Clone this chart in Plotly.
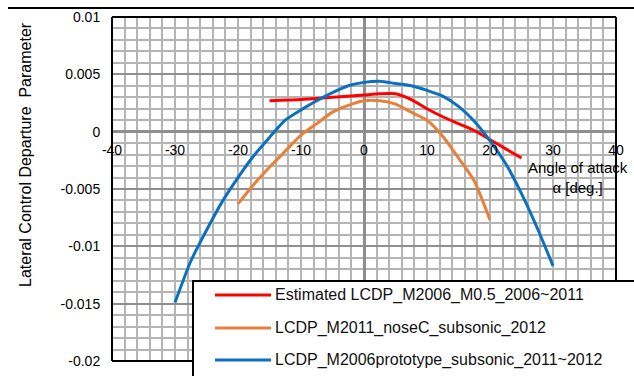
import plotly.graph_objects as go

# ---- data ----
red_x = [-15, -10, -5, 0, 2.5, 5, 7.5, 10, 12.5, 15, 17.5, 20, 22.5, 25]
red_y = [0.0027, 0.0028, 0.0030, 0.0032, 0.0033, 0.0033, 0.0028, 0.0020, 0.0013, 0.0007, 0.0001, -0.0007, -0.0015, -0.0023]

orange_x = [-20, -17.5, -15, -12.5, -10, -7.5, -5, -2.5, 0, 2.5, 5, 7.5, 10, 12.5, 15, 17.5, 20]
orange_y = [-0.0063, -0.0046, -0.0031, -0.0017, -0.0003, 0.0007, 0.0017, 0.0023, 0.0027, 0.0027, 0.0024, 0.0017, 0.0010, -0.0004, -0.0023, -0.0043, -0.0077]

blue_x = [-30, -27.5, -25, -22.5, -20, -17.5, -15, -12.5, -10, -7.5, -5, -2.5, 0, 2.5, 5, 7.5, 10, 12.5, 15, 17.5, 20, 22.5, 25, 27.5, 30]
blue_y = [-0.0149, -0.0113, -0.0086, -0.0061, -0.0040, -0.0021, -0.0005, 0.0010, 0.0019, 0.0027, 0.0034, 0.0040, 0.0043, 0.0044, 0.0042, 0.0040, 0.0036, 0.0031, 0.0022, 0.0009, -0.0008, -0.0028, -0.0054, -0.0084, -0.0117]

series_names = [
    "Estimated LCDP_M2006_M0.5_2006~2011",
    "LCDP_M2011_noseC_subsonic_2012",
    "LCDP_M2006prototype_subsonic_2011~2012",
]
series_colors = ["#ff0000", "#e8803a", "#0a70c0"]

x_tickvals = [-40, -30, -20, -10, 0, 10, 20, 30, 40]
x_ticktext = ["-40", "-30", "-20", "-10", "0", "10", "20", "30", "40"]
y_tickvals = [0.01, 0.005, 0, -0.005, -0.01, -0.015, -0.02]
y_ticktext = ["0.01", "0.005", "0", "-0.005", "-0.01", "-0.015", "-0.02"]

y_title = "Lateral Control Departure\u00a0 Parameter"
x_title = "Angle of attack<br>\u03b1 [deg.]"

FONT = "Liberation Sans, Arial, sans-serif"
W, H = 634, 376
L, R, T, B = 112, 18, 17, 15
PW, PH = W - L - R, H - T - B


def px(xp):
    return (xp - L) / PW


def py(yp):
    return (H - B - yp) / PH


fig = go.Figure()
for xs, ys, nm, c in [(red_x, red_y, series_names[0], series_colors[0]),
                      (orange_x, orange_y, series_names[1], series_colors[1]),
                      (blue_x, blue_y, series_names[2], series_colors[2])]:
    fig.add_trace(go.Scatter(x=xs, y=ys, mode="lines", name=nm,
                             line=dict(color=c, width=3, shape="spline", smoothing=0.6),
                             showlegend=False))

grid_light = "#b4b4b4"
grid_dark = "#8e8e8e"

fig.update_layout(
    width=W, height=H,
    margin=dict(l=L, r=R, t=T, b=B, autoexpand=False),
    paper_bgcolor="white", plot_bgcolor="white",
    font=dict(family=FONT, size=14, color="black"),
    xaxis=dict(
        range=[-40, 40], tickvals=x_tickvals, ticktext=x_ticktext,
        showgrid=True, gridcolor=grid_light, gridwidth=2,
        minor=dict(dtick=2, tick0=0, showgrid=True, gridcolor=grid_light, gridwidth=2),
        zeroline=True, zerolinecolor=grid_dark, zerolinewidth=3,
        anchor="free", position=2 / 3, showline=False,
        ticks="outside", ticklen=6, tickcolor="rgba(0,0,0,0)",
        tickfont=dict(size=14), automargin=False,
    ),
    yaxis=dict(
        range=[-0.02, 0.01], tickvals=y_tickvals, ticktext=y_ticktext,
        showgrid=True, gridcolor=grid_dark, gridwidth=2,
        minor=dict(dtick=0.001, tick0=0, showgrid=True, gridcolor=grid_light, gridwidth=2),
        zeroline=True, zerolinecolor=grid_dark, zerolinewidth=3,
        showline=False,
        ticks="outside", ticklen=8, tickcolor="rgba(0,0,0,0)",
        tickfont=dict(size=14), automargin=False,
    ),
)

shapes = []
annotations = []
# legend box
shapes.append(dict(type="rect", xref="paper", yref="paper", x0=px(193), x1=px(660),
                   y0=py(400), y1=py(281), fillcolor="white",
                   line=dict(color="black", width=2)))
legend_rows = [295, 328, 360]
for i, yy in enumerate(legend_rows):
    shapes.append(dict(type="line", xref="paper", yref="paper", x0=px(215), x1=px(271),
                       y0=py(yy), y1=py(yy), line=dict(color=series_colors[i], width=3)))
    annotations.append(dict(xref="paper", yref="paper", x=px(273), y=py(yy),
                            text=series_names[i], showarrow=False, xanchor="left",
                            yanchor="middle", font=dict(size=16, color="#111")))

# frame edges and top rule: (head x, head y, tail x, tail y) in page pixels
rules = [
    (112, 17, 112, 361),   # left edge of plot
    (616, 17, 112, 17),    # top edge of plot
    (616, 17, 616, 281),   # right edge down to legend box
    (112, 361, 193, 361),  # bottom edge up to legend box
    (634, 8, 8, 8),        # rule across top of page
]
for hx, hy, tx, ty in rules:
    shapes.append(dict(type="line", xref="paper", yref="paper", x0=px(tx), x1=px(hx),
                       y0=py(ty), y1=py(hy), line=dict(color="black", width=2)))
    annotations.append(dict(xref="paper", yref="paper", x=px(hx), y=py(hy),
                            ax=tx - hx, ay=ty - hy, axref="pixel", ayref="pixel",
                            text="", showarrow=True, arrowhead=0, arrowwidth=2,
                            arrowcolor="black", standoff=0, startstandoff=0,
                            borderpad=0, borderwidth=0))

annotations.append(dict(xref="paper", yref="paper", x=px(25), y=py(155), text=y_title,
                        textangle=-90, showarrow=False, xanchor="center", yanchor="middle",
                        font=dict(size=16)))
annotations.append(dict(xref="paper", yref="paper", x=px(578), y=py(177), text=x_title,
                        showarrow=False, xanchor="center", yanchor="middle",
                        font=dict(size=15)))

fig.update_layout(shapes=shapes, annotations=annotations)
fig.write_html("out.html", config={"displayModeBar": False},
               post_script="document.body.style.margin='0';document.body.style.overflow='hidden';")
